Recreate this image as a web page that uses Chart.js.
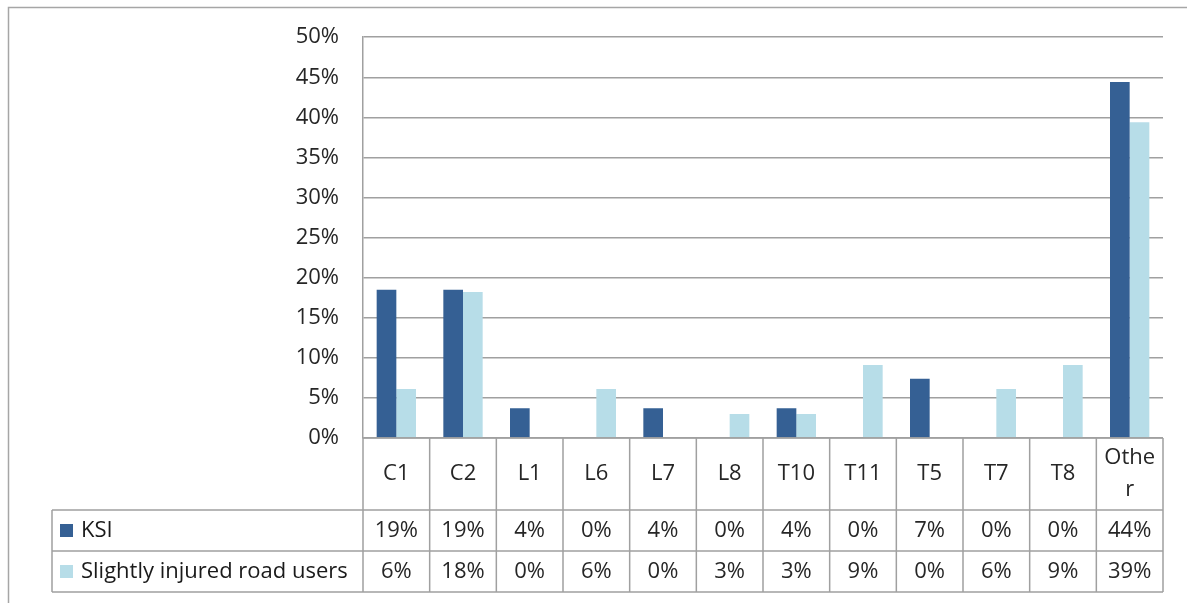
<!DOCTYPE html>
<html>
<head>
<meta charset="utf-8">
<script src="https://cdn.jsdelivr.net/npm/chart.js@4.4.0/dist/chart.umd.min.js"></script>
<style>
	body { margin: 0; background: #fff; }
	#wrap { width: 1187px; height: 603px; position: relative; }
</style>
</head>
<body>
<div id="wrap"><canvas id="bar-canvas"></canvas></div>
<script>
var categories = ['C1', 'C2', 'L1', 'L6', 'L7', 'L8', 'T10', 'T11', 'T5', 'T7', 'T8', 'Other'];
var ksi = [18.5, 18.5, 3.7, 0, 3.7, 0, 3.7, 0, 7.4, 0, 0, 44.4];
var slight = [6.1, 18.2, 0, 6.1, 0, 3.0, 3.0, 9.1, 0, 6.1, 9.1, 39.4];
var seriesNames = ['KSI', 'Slightly injured road users'];
var yMax = 50;
var yStep = 5;

var ksiColor = '#356094';
var slightColor = '#b7dde8';
var lineColor = '#a0a0a0';
var textColor = '#262626';
var font = '"Open Sans", sans-serif';

// draws the outer frame and the data table under the plot
var tablePlugin = {
	id: 'dataTable',
	beforeDraw: function(chart) {
		var ctx = chart.ctx;
		ctx.save();
		ctx.strokeStyle = '#a6a6a6';
		ctx.lineWidth = 1.5;
		ctx.beginPath();
		ctx.moveTo(8.5, 605);
		ctx.lineTo(8.5, 7.5);
		ctx.lineTo(1190, 7.5);
		ctx.stroke();
		ctx.restore();
	},
	afterDraw: function(chart) {
		var ctx = chart.ctx;
		var area = chart.chartArea;
		var xs = chart.scales.x;
		var n = categories.length;
		var w = (area.right - area.left) / n;
		var top = area.bottom;
		var hdrB = top + 72;
		var r1B = hdrB + 41;
		var r2B = r1B + 41;
		var legL = 52;

		ctx.save();
		ctx.strokeStyle = lineColor;
		ctx.lineWidth = 1.5;
		ctx.beginPath();
		// horizontal lines
		ctx.moveTo(area.left, top); ctx.lineTo(area.right, top);
		ctx.moveTo(legL, hdrB); ctx.lineTo(area.right, hdrB);
		ctx.moveTo(legL, r1B); ctx.lineTo(area.right, r1B);
		ctx.moveTo(legL, r2B); ctx.lineTo(area.right, r2B);
		// vertical lines
		ctx.moveTo(legL, hdrB); ctx.lineTo(legL, r2B);
		for (var i = 0; i <= n; i++) {
			var x = area.left + i * w;
			ctx.moveTo(x, top); ctx.lineTo(x, r2B);
		}
		ctx.stroke();

		ctx.font = '22px ' + font;
		ctx.fillStyle = textColor;
		ctx.textAlign = 'center';
		ctx.textBaseline = 'middle';
		for (var i = 0; i < n; i++) {
			var cx = xs.getPixelForValue(i);
			var label = categories[i];
			if (ctx.measureText(label).width > w - 8) {
				// wrap like the spreadsheet does
				var a = label;
				while (ctx.measureText(a).width > w - 8) a = a.slice(0, -1);
				ctx.fillText(a, cx, top + 20);
				ctx.fillText(label.slice(a.length), cx, top + 52);
			} else {
				ctx.fillText(label, cx, top + 36);
			}
			ctx.fillText(Math.round(ksi[i]) + '%', cx, hdrB + 21);
			ctx.fillText(Math.round(slight[i]) + '%', cx, r1B + 21);
		}

		// legend keys
		ctx.textAlign = 'left';
		ctx.fillStyle = ksiColor;
		ctx.fillRect(60, hdrB + 14, 13, 13);
		ctx.fillStyle = slightColor;
		ctx.fillRect(60, r1B + 14, 13, 13);
		ctx.fillStyle = '#1a1a1a';
		ctx.fillText(seriesNames[0], 81, hdrB + 21);
		ctx.fillText(seriesNames[1], 81, r1B + 21);
		ctx.restore();
	}
};

var canvas = document.querySelector('#bar-canvas');

new Chart(canvas, {
	type: 'bar',
	data: {
		labels: categories,
		datasets: [
			{ label: seriesNames[0], data: ksi, backgroundColor: ksiColor, borderWidth: 0 },
			{ label: seriesNames[1], data: slight, backgroundColor: slightColor, borderWidth: 0 }
		]
	},
	options: {
		responsive: true,
		maintainAspectRatio: false,
		animation: false,
		layout: { padding: { top: 36, right: 24, bottom: 165, left: 0 } },
		datasets: { bar: { categoryPercentage: 0.59, barPercentage: 1 } },
		plugins: {
			legend: { display: false },
			tooltip: { enabled: false }
		},
		scales: {
			x: { display: false },
			y: {
				min: 0,
				max: yMax,
				afterFit: function(scale) { scale.width = 363; },
				ticks: {
					stepSize: yStep,
					padding: 24,
					color: textColor,
					font: { family: font, size: 22 },
					callback: function(v) { return v + '%'; }
				},
				grid: { color: lineColor, lineWidth: 1.5, drawTicks: false },
				border: { color: lineColor, width: 1.5 }
			}
		}
	},
	plugins: [tablePlugin]
});
</script>
</body>
</html>
